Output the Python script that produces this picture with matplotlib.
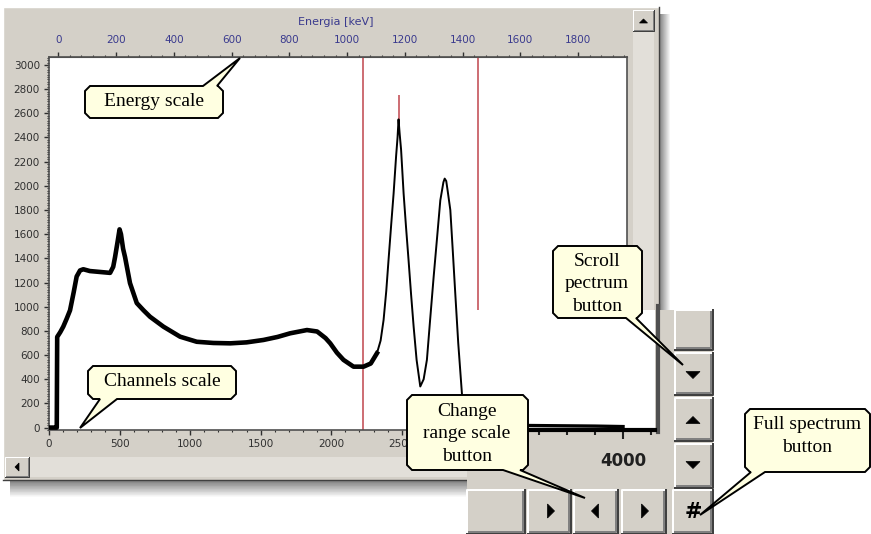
import matplotlib
matplotlib.use("Agg")
import numpy as np
import matplotlib.pyplot as plt
from matplotlib.patches import Rectangle, Polygon
from matplotlib.ticker import MultipleLocator

W, H = 871, 534

# spectrum: channel number and counts
channels = [0, 50, 55, 58, 80, 101, 125, 149, 175, 196, 220, 243, 290, 338, 385, 433,
            455, 468, 485, 500, 510, 525, 539, 574, 622, 670, 716, 811, 929, 1047, 1165,
            1284, 1400, 1520, 1620, 1709, 1828, 1900, 1960, 1993, 2040, 2087, 2158, 2229,
            2280, 2324, 2350, 2371, 2390, 2406, 2425, 2442, 2460, 2470, 2477, 2485, 2495,
            2513, 2530, 2548, 2566, 2584, 2605, 2631, 2655, 2678, 2700, 2726, 2750, 2773,
            2795, 2804, 2815, 2825, 2844, 2862, 2879, 2900, 2926, 2945, 2960, 3100, 3300,
            3500, 3700, 3900, 4000]
counts = [0, 0, 0, 750, 790, 835, 900, 970, 1120, 1250, 1300, 1310, 1295, 1290, 1285, 1280,
          1330, 1410, 1530, 1640, 1600, 1480, 1410, 1195, 1030, 970, 917, 835, 752, 710, 700,
          697, 705, 725, 750, 780, 807, 795, 740, 697, 620, 560, 504, 504,
          530, 615, 720, 890, 1130, 1385, 1680, 1936, 2250, 2400, 2550, 2430, 2300,
          1936, 1660, 1385, 1100, 835, 560, 340, 400, 560, 880, 1250, 1570, 1880,
          2030, 2060, 2040, 1960, 1800, 1450, 1110, 700, 284, 60, 30, 20, 15,
          12, 10, 8, 6]

# red marker lines: channel, lower and upper end (counts)
marker_ch = [2227, 2477, 3043]
marker_lo = [-20, 2480, 960]
marker_hi = [3066, 2750, 3066]

# energy calibration
kev_per_ch = 0.4887
ch_offset = 66

energy_ticks = list(range(0, 1801, 200))

WIN = "#d4d0c8"
TRACK = "#e2dfd9"
NAVY = "#3a3a8e"
TIP = "#ffffe1"
SERIF = "Liberation Serif"


def fr(x0, y0, x1, y1):
    return [x0 / W, 1 - y1 / H, (x1 - x0) / W, (y1 - y0) / H]


def px_axes(z):
    a = fig.add_axes([0, 0, 1, 1], zorder=z)
    a.set_xlim(0, W)
    a.set_ylim(H, 0)
    a.axis("off")
    a.patch.set_alpha(0)
    return a


def box(a, x0, y0, x1, y1, fc, z=1):
    a.add_patch(Rectangle((x0, y0), x1 - x0, y1 - y0, fc=fc, ec="none", zorder=z))


def bevel(a, x0, y0, x1, y1, w=1.0):
    box(a, x0, y0, x1, y1, WIN)
    lw = w * 0.72
    a.plot([x0, x0, x1], [y1, y0, y0], color="white", lw=lw, solid_capstyle="butt")
    a.plot([x0 + w, x1 - w, x1 - w], [y1 - w, y1 - w, y0 + w], color="#808080", lw=lw)
    a.plot([x0, x1, x1], [y1, y1, y0], color="#404040", lw=lw)


def tri(a, cx, cy, s, d):
    pts = {"up": [(cx - s, cy + s / 2), (cx + s, cy + s / 2), (cx, cy - s / 2)],
           "down": [(cx - s, cy - s / 2), (cx + s, cy - s / 2), (cx, cy + s / 2)],
           "left": [(cx + s / 2, cy - s), (cx + s / 2, cy + s), (cx - s / 2, cy)],
           "right": [(cx - s / 2, cy - s), (cx - s / 2, cy + s), (cx + s / 2, cy)]}[d]
    a.add_patch(Polygon(pts, closed=True, fc="black", ec="black", lw=0.5, zorder=3))


def callout(a, x0, y0, x1, y1, side, base, tip, text, tx, ty, ls=1.42):
    c = 5
    pts = [(x0 + c, y0)]
    if side == "top":
        pts += [(base[0], y0), tip, (base[1], y0)]
    pts += [(x1 - c, y0), (x1, y0 + c), (x1, y1 - c), (x1 - c, y1)]
    if side == "bottom":
        pts += [(base[1], y1), tip, (base[0], y1)]
    pts += [(x0 + c, y1), (x0, y1 - c), (x0, y0 + c)]
    a.add_patch(Polygon(pts, closed=True, fc=TIP, ec="black", lw=1.4, zorder=5))
    a.text(tx, ty, text, ha="center", va="center", multialignment="center",
           fontsize=14, family=SERIF, linespacing=ls, zorder=6)


fig = plt.figure(figsize=(W / 100, H / 100), dpi=100)
fig.patch.set_facecolor("white")

# window behind the plot
bg = px_axes(0)
grad = np.linspace(0.5, 1.0, 12)[None, :]
bg.imshow(grad, cmap="gray", vmin=0, vmax=1, extent=(659, 671, 482, 14), aspect="auto")
bg.imshow(grad.T, cmap="gray", vmin=0, vmax=1, extent=(10, 671, 498, 480), aspect="auto")
box(bg, 3, 7, 659, 480, WIN)
bg.plot([3, 3, 659], [480, 7, 7], color="white", lw=1)
bg.plot([3, 659, 659], [480, 480, 7], color="#404040", lw=1)
box(bg, 633, 10, 654, 456, TRACK)
bevel(bg, 633, 10, 654, 31)
tri(bg, 643.5, 21, 4, "up")
box(bg, 5, 457, 633, 477, TRACK)
bevel(bg, 5, 457, 29, 477)
tri(bg, 17, 467, 4, "left")
bg.text(336, 22, "Energia [keV]", ha="center", va="center", fontsize=8, color=NAVY)
bg.set_xlim(0, W)
bg.set_ylim(H, 0)

# main spectrum plot
ax = fig.add_axes(fr(49, 57, 627, 430), zorder=1)
ax.set_facecolor("white")
split = int(np.searchsorted(channels, 2300))
ax.plot(channels[:split + 1], counts[:split + 1], color="black", lw=3.3, zorder=3)
ax.plot(channels[split:], counts[split:], color="black", lw=1.4, zorder=3)
ax.vlines(marker_ch, marker_lo, marker_hi, color="#c0454d", lw=1.1, zorder=2)
ax.set_xlim(0, 4096)
ax.set_ylim(-20, 3066)
ax.xaxis.set_major_locator(MultipleLocator(500))
ax.xaxis.set_minor_locator(MultipleLocator(100))
ax.yaxis.set_major_locator(MultipleLocator(200))
ax.yaxis.set_minor_locator(MultipleLocator(20))
ax.tick_params(which="major", direction="out", length=3.6, width=1, labelsize=7.5,
               colors="#303030", pad=3)
ax.tick_params(which="minor", direction="out", length=1.6, width=0.8, colors="#303030")
for s in ax.spines.values():
    s.set_color("#505050")
    s.set_linewidth(1.2)

top = ax.secondary_xaxis("top", functions=(lambda c: (c - ch_offset) * kev_per_ch,
                                           lambda e: e / kev_per_ch + ch_offset))
top.set_xticks(energy_ticks)
top.xaxis.set_minor_locator(MultipleLocator(40))
top.tick_params(which="major", direction="out", length=3.6, width=1, labelsize=7.5,
                colors="#303030", labelcolor=NAVY, pad=5)
top.tick_params(which="minor", direction="out", length=1.6, width=0.8, colors="#303030")
top.spines["top"].set_color("#505050")

# enlarged corner of the window with the buttons
pan = px_axes(2)
box(pan, 467, 310, 713, 534, WIN)
pan.plot([658, 658], [306, 432], color="#505050", lw=3)
bevel(pan, 675, 310, 713, 350, 2)
bevel(pan, 675, 353, 713, 395, 2)
bevel(pan, 675, 398, 713, 441, 2)
bevel(pan, 675, 444, 713, 488, 2)
bevel(pan, 673, 490, 713, 534, 2)
bevel(pan, 467, 490, 525, 534, 2)
bevel(pan, 528, 490, 571, 534, 2)
bevel(pan, 574, 490, 618, 534, 2)
bevel(pan, 622, 490, 666, 534, 2)
tri(pan, 693, 375, 7, "down")
tri(pan, 693, 420, 7, "up")
tri(pan, 693, 465, 7, "down")
tri(pan, 551, 511, 7, "right")
tri(pan, 595, 511, 7, "left")
tri(pan, 645, 511, 7, "right")
pan.text(693, 512, "#", ha="center", va="center", fontsize=15, weight="bold")

ins = fig.add_axes(fr(467, 310, 655, 430), zorder=3)
ins.set_facecolor("white")
ins.plot(channels, counts, color="black", lw=2.4)
ins.set_xlim(3443, 4114)
ins.set_ylim(-8, 483)
ins.set_yticks([])
ins.xaxis.set_major_locator(MultipleLocator(500))
ins.xaxis.set_minor_locator(MultipleLocator(100))
ins.tick_params(which="major", direction="out", length=6.5, width=1.5, labelsize=12,
                colors="#202020", pad=9)
ins.tick_params(which="minor", direction="out", length=3.5, width=1.5, colors="#202020")
for lab in ins.get_xticklabels():
    lab.set_fontweight("bold")
for side in ["left", "top", "right"]:
    ins.spines[side].set_visible(False)
ins.spines["bottom"].set_linewidth(3)
ins.spines["bottom"].set_color("black")

# yellow call-outs
cal = px_axes(4)
callout(cal, 85, 86, 223, 118, "top", (203, 217), (240, 58), "Energy scale", 154, 101)
callout(cal, 88, 366, 236, 399, "bottom", (100, 117), (80, 428), "Channels scale", 162, 381)
callout(cal, 407, 395, 528, 470, "bottom", (503, 520), (585, 498),
        "Change\nrange scale\nbutton", 467, 434)
callout(cal, 553, 246, 642, 318, "bottom", (626, 636), (683, 365),
        "Scroll\npectrum\nbutton", 597, 284)
callout(cal, 745, 409, 870, 472, "bottom", (751, 765), (700, 515),
        "Full spectrum\nbutton", 807, 436)

fig.savefig("out.png", dpi=100)
